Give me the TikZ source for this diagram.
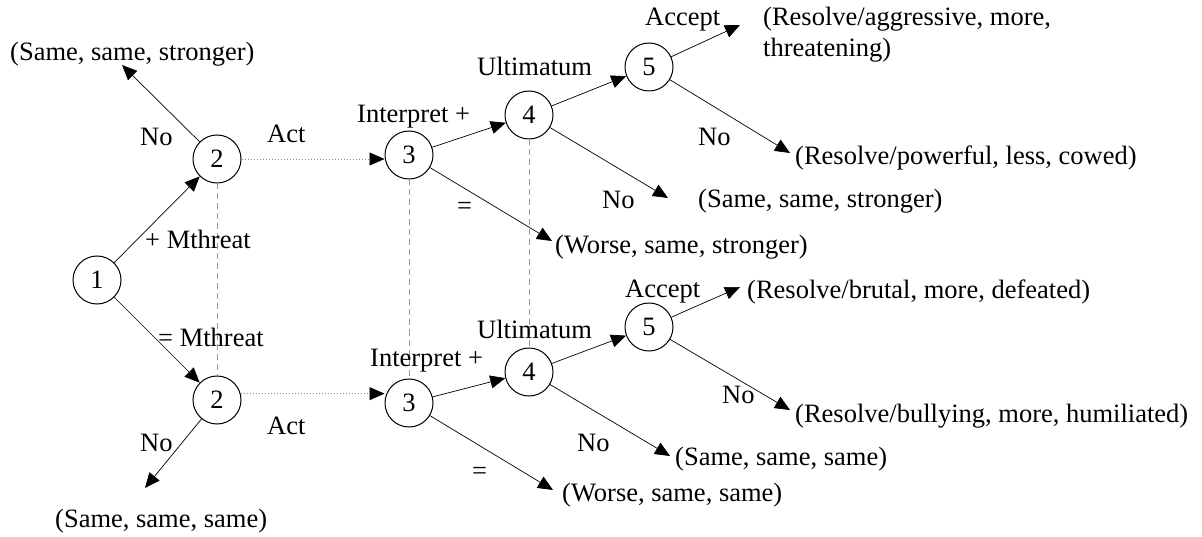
\documentclass[tikz,border=0pt]{standalone}
\usepackage{fontspec}
\setmainfont{Liberation Serif}
\usetikzlibrary{arrows.meta}
\begin{document}
\begin{tikzpicture}[x=1pt,y=-1pt,
  font=\fontsize{26.5}{31}\selectfont,
  state/.style={circle,draw,line width=1pt,minimum size=48pt,inner sep=0pt},
  lbl/.style={anchor=base west,inner sep=0pt},
  leaf/.style={anchor=base west,inner sep=0pt,align=left},
  tip/.style={-{Triangle[length=15pt,width=13pt,color=black]}},
  move/.style={draw,line width=0.7pt,tip},
  info/.style={draw=black!40,line width=1pt,dash pattern=on 6pt off 4pt},
  link/.style={draw=black!45,line width=0.7pt,dash pattern=on 1.5pt off 1.5pt,tip}]
\useasboundingbox (0,0) rectangle (1202,537);

% decision nodes
\node[state] (n1)  at (97,280)  {1};
\node[state] (n2t) at (217,159) {2};
\node[state] (n2b) at (217,400) {2};
\node[state] (n3t) at (409,155) {3};
\node[state] (n3b) at (409,403) {3};
\node[state] (n4t) at (529,115) {4};
\node[state] (n4b) at (529,372) {4};
\node[state] (n5t) at (649,67)  {5};
\node[state] (n5b) at (649,327) {5};

% arrow ends next to the outcomes
\coordinate (t1)  at (122,65);
\coordinate (t2)  at (145,488);
\coordinate (t3)  at (552,241);
\coordinate (t4)  at (668,198);
\coordinate (t5)  at (740,25);
\coordinate (t6)  at (790,153);
\coordinate (t7)  at (740,287);
\coordinate (t8)  at (790,410);
\coordinate (t9)  at (670,456);
\coordinate (t10) at (553,490);

% information sets
\draw[info] (n2t) -- (n2b);
\draw[info] (n3t) -- (n3b);
\draw[info] (n4t) -- (n4b);

% moves
\draw[move] (n1) -- (n2t);
\draw[move] (n1) -- (n2b);
\draw[move] (n2t) -- (t1);
\draw[move] (n2b) -- (t2);
\draw[link] (n2t.east) -- (n2t.east -| n3t.west);
\draw[link] (n2b.15) -- (n2b.15 -| n3b.west);
\draw[move] (n3t) -- (n4t);
\draw[move] (n3t) -- (t3);
\draw[move] (n3b) -- (n4b);
\draw[move] (n3b) -- (t10);
\draw[move] (n4t) -- (n5t);
\draw[move] (n4t) -- (t4);
\draw[move] (n4b) -- (n5b);
\draw[move] (n4b) -- (t9);
\draw[move] (n5t) -- (t5);
\draw[move] (n5t) -- (t6);
\draw[move] (n5b) -- (t7);
\draw[move] (n5b) -- (t8);

% move labels
\node[lbl] (lno1) at (140,146) {No};
\node[lbl] (lact1) at (267,143) {Act};
\node[lbl] (lmt1) at (145,249) {+ Mthreat};
\node[lbl] (lmt2) at (158,346) {= Mthreat};
\node[lbl] (lno2) at (140,451) {No};
\node[lbl] (lact2) at (267,434) {Act};
\node[lbl] (lint1) at (357,123) {Interpret +};
\node[lbl] (leq1) at (457,215) {=};
\node[lbl] (lult1) at (477,76) {Ultimatum};
\node[lbl] (lno3) at (602,209) {No};
\node[lbl] (lacc1) at (645,26) {Accept};
\node[lbl] (lno4) at (698,146) {No};
\node[lbl] (lint2) at (370,366) {Interpret +};
\node[lbl] (leq2) at (472,479) {=};
\node[lbl] (lult2) at (477,338) {Ultimatum};
\node[lbl] (lacc2) at (625,298) {Accept};
\node[lbl] (lno5) at (722,403) {No};
\node[lbl] (lno6) at (577,451) {No};

% outcomes (a two-line node sits on the baseline of its last line)
\node[leaf] (o1)  at (10,61)   {(Same, same, stronger)};
\node[leaf] (o2)  at (55,527)  {(Same, same, same)};
\node[leaf] (o3)  at (555,254) {(Worse, same, stronger)};
\node[leaf] (o4)  at (698,208) {(Same, same, stronger)};
\node[leaf] (o5)  at (763,57)  {(Resolve/aggressive, more,\\threatening)};
\node[leaf] (o6)  at (795,165) {(Resolve/powerful, less, cowed)};
\node[leaf] (o7)  at (747,299) {(Resolve/brutal, more, defeated)};
\node[leaf] (o8)  at (795,422) {(Resolve/bullying, more, humiliated)};
\node[leaf] (o9)  at (675,465) {(Same, same, same)};
\node[leaf] (o10) at (562,501) {(Worse, same, same)};
\end{tikzpicture}
\end{document}
